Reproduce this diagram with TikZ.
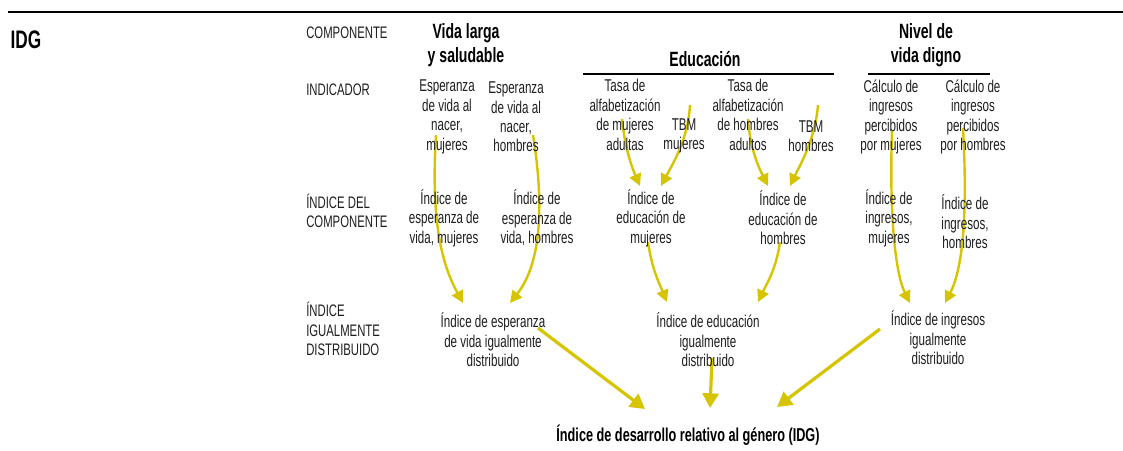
\documentclass[tikz,border=0pt]{standalone}
\usepackage{fontspec}
\setmainfont{Liberation Sans}[FakeStretch=0.68]
\usetikzlibrary{arrows.meta, backgrounds}

\definecolor{flecha}{RGB}{214,196,0}
\definecolor{texto}{RGB}{30,30,30}

\begin{document}
\begin{tikzpicture}[x=0.75pt, y=-0.75pt]

	% --- Estilos ---
	\tikzset{
		rowlabel/.style={anchor=west, align=left, inner sep=0pt, text=texto, font=\fontsize{12.5}{14.6}\selectfont},
		caja/.style={align=center, inner sep=0pt, text=texto, font=\fontsize{12.8}{14.6}\selectfont},
		titulo/.style={align=center, inner sep=0pt, font=\bfseries\fontsize{15.5}{18}\selectfont},
		flow/.style={draw=flecha, line width=1.8pt, -{Triangle[length=9pt,width=9pt]}},
		bigflow/.style={draw=flecha, line width=2.4pt, -{Triangle[length=11pt,width=12pt]}}
	}

	\useasboundingbox (0,0) rectangle (1123,450);

	% --- Cabecera ---
	\draw[line width=2.2pt] (8,12) -- (1123,12);
	\node[inner sep=0pt, font=\bfseries\fontsize{19}{21}\selectfont] (idg) at (26,40) {IDG};

	% --- Etiquetas de fila ---
	\node[rowlabel] (lComp) at (306,33) {COMPONENTE};
	\node[rowlabel] (lInd) at (306,90) {INDICADOR};
	\node[rowlabel] (lIdx) at (306,211) {ÍNDICE DEL\\COMPONENTE};
	\node[rowlabel] (lIgu) at (306,329) {ÍNDICE\\IGUALMENTE\\DISTRIBUIDO};

	% --- Componentes ---
	\node[titulo] (hVida) at (466,45) {Vida larga\\y saludable};
	\node[titulo] (hEdu) at (705,59) {Educación};
	\node[titulo] (hNivel) at (926,45) {Nivel de\\vida digno};
	\draw[line width=0.9pt] (583,74) -- (834,74);
	\draw[line width=0.9pt] (868,74) -- (990,74);

	% --- Indicadores ---
	\node[caja] (iEspM) at (447,117) {Esperanza\\de vida al\\nacer,\\mujeres};
	\node[caja] (iEspH) at (516,117) {Esperanza\\de vida al\\nacer,\\hombres};
	\node[caja] (iTasaM) at (625,115) {Tasa de\\alfabetización\\de mujeres\\adultas};
	\node[caja] (iTbmM) at (684,136) {TBM\\mujeres};
	\node[caja] (iTasaH) at (748,115) {Tasa de\\alfabetización\\de hombres\\adultos};
	\node[caja] (iTbmH) at (811,136) {TBM\\hombres};
	\node[caja] (iIngM) at (891,117) {Cálculo de\\ingresos\\percibidos\\por mujeres};
	\node[caja] (iIngH) at (973,117) {Cálculo de\\ingresos\\percibidos\\por hombres};

	% --- Indices del componente ---
	\node[caja] (cEspM) at (444,218) {Índice de\\esperanza de\\vida, mujeres};
	\node[caja] (cEspH) at (537,218) {Índice de\\esperanza de\\vida, hombres};
	\node[caja] (cEduM) at (651,218) {Índice de\\educación de\\mujeres};
	\node[caja] (cEduH) at (783,218) {Índice de\\educación de\\hombres};
	\node[caja] (cIngM) at (889,218) {Índice de\\ingresos,\\mujeres};
	\node[caja] (cIngH) at (965,222) {Índice de\\ingresos,\\hombres};

	% --- Indices igualmente distribuidos ---
	\node[caja] (dEsp) at (493,340) {Índice de esperanza\\de vida igualmente\\distribuido};
	\node[caja] (dEdu) at (708,340) {Índice de educación\\igualmente\\distribuido};
	\node[caja] (dIng) at (938,338) {Índice de ingresos\\igualmente\\distribuido};

	\node[inner sep=0pt, font=\bfseries\fontsize{14}{16}\selectfont] (fIdg) at (688,435) {Índice de desarrollo relativo al género (IDG)};

	% --- Flechas (detras del texto) ---
	\begin{scope}[on background layer]
		\draw[flow] ([shift={(-11,18)}]iEspM.center) .. controls (430,230) and (445,270) .. ([shift={(-30,-37)}]dEsp.center);
		\draw[flow] ([shift={(17,18)}]iEspH.center) .. controls (545,210) and (540,265) .. ([shift={(17,-37)}]dEsp.center);
		\draw[flow] ([shift={(-3,4)}]iTasaM.center) .. controls (625,150) and (633,170) .. ([shift={(-11,-32)}]cEduM.center);
		\draw[flow] ([shift={(6,-31)}]iTbmM.center) .. controls (688,140) and (672,165) .. ([shift={(10,-32)}]cEduM.center);
		\draw[flow] ([shift={(0,4)}]iTasaH.center) .. controls (750,150) and (760,170) .. ([shift={(-15,-32)}]cEduH.center);
		\draw[flow] ([shift={(7,-31)}]iTbmH.center) .. controls (815,140) and (800,165) .. ([shift={(7,-32)}]cEduH.center);
		\draw[flow] ([shift={(1,13)}]iIngM.center) .. controls (889,220) and (896,275) .. ([shift={(-28,-35)}]dIng.center);
		\draw[flow] ([shift={(-10,11)}]iIngH.center) .. controls (968,220) and (962,270) .. ([shift={(7,-35)}]dIng.center);
		\draw[flow] ([shift={(-3,24)}]cEduM.center) .. controls (652,270) and (660,285) .. ([shift={(-41,-38)}]dEdu.center);
		\draw[flow] ([shift={(-3,24)}]cEduH.center) .. controls (776,270) and (766,285) .. ([shift={(50,-38)}]dEdu.center);
		\draw[bigflow] ([shift={(45,-12)}]dEsp.center) -- ([shift={(-43,-26)}]fIdg.center);
		\draw[bigflow] ([shift={(4,18)}]dEdu.center) -- ([shift={(22,-27)}]fIdg.center);
		\draw[bigflow] ([shift={(-58,-9)}]dIng.center) -- ([shift={(89,-28)}]fIdg.center);
	\end{scope}

\end{tikzpicture}
\end{document}
